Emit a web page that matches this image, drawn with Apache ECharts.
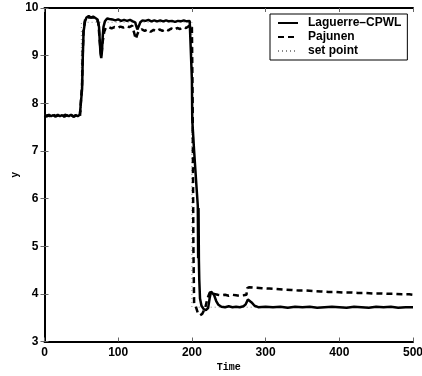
<!DOCTYPE html>
<html>
<head>
<meta charset="utf-8">
<script src="https://cdn.jsdelivr.net/npm/echarts@6/dist/echarts.min.js"></script>
<style>html,body{margin:0;padding:0;background:#fff}#c{width:422px;height:376px}</style>
</head>
<body>
<div id="c"></div>
<script>
var seriesNames = ['Laguerre\u2013CPWL', 'Pajunen', 'set point'];
var xTicks = [0, 100, 200, 300, 400, 500];
var yTicks = [3, 4, 5, 6, 7, 8, 9, 10];

var laguerre = [
[0,7.75],[3,7.72],[6,7.76],[9,7.73],[12,7.75],[15,7.72],[18,7.76],[21,7.73],[24,7.75],[27,7.72],[30,7.75],[33,7.73],[36,7.76],[39,7.72],[42,7.75],[45,7.73],[48,7.76],[50,7.74],
[51,8.3],[52,9.0],[53,9.5],[55,9.72],[57,9.8],[60,9.83],[63,9.8],[66,9.82],[69,9.79],[72,9.76],[74,9.6],[75,9.3],[76,9.05],[77,8.95],[78,9.1],[79,9.4],[80,9.6],[82,9.72],[85,9.78],[88,9.77],[92,9.76],[96,9.74],[100,9.76],[104,9.73],[108,9.75],[112,9.73],[116,9.75],[120,9.72],[123,9.7],[125,9.6],[126,9.55],[128,9.62],[130,9.7],[133,9.74],[137,9.73],[141,9.75],[145,9.72],[149,9.74],[153,9.72],[157,9.74],[161,9.72],[165,9.74],[169,9.72],[173,9.73],[177,9.71],[181,9.73],[185,9.72],[189,9.74],[193,9.72],[197,9.73],[199.5,9.72],
[200,8.5],[200.5,7.65],[203,7.0],[206,6.3],[208,5.85],[208.5,4.75],[209,5.8],[209.5,4.7],[210,4.3],[211,3.9],[213,3.75],[216,3.68],[219,3.66],[222,3.7],[224,3.9],[226,4.05],[227.5,4.08],[230,3.98],[233,3.85],[236,3.77],[240,3.73],[245,3.72],[250,3.74],[255,3.72],[260,3.73],[265,3.72],[270,3.74],[273,3.78],[276,3.88],[278,3.9],[281,3.82],[285,3.75],[290,3.72],[300,3.73],[310,3.72],[320,3.73],[330,3.71],[340,3.73],[350,3.72],[360,3.73],[370,3.71],[380,3.72],[390,3.73],[400,3.72],[410,3.71],[420,3.73],[430,3.72],[440,3.71],[450,3.73],[460,3.72],[470,3.73],[480,3.71],[490,3.72],[500,3.72]
];

var pajunen = [
[0,7.73],[4,7.75],[8,7.72],[12,7.76],[16,7.73],[20,7.75],[24,7.72],[28,7.76],[32,7.73],[36,7.75],[40,7.72],[44,7.76],[48,7.73],[50,7.74],
[51,8.4],[52,9.1],[53,9.55],[55,9.75],[58,9.8],[62,9.8],[66,9.8],[70,9.78],[73,9.7],[75,9.3],[77,8.98],[79,9.3],[81,9.5],[83,9.58],[87,9.6],[91,9.57],[95,9.6],[99,9.58],[103,9.61],[107,9.59],[111,9.62],[115,9.6],[119,9.63],[121,9.6],[123,9.4],[124,9.35],[126,9.45],[128,9.52],[132,9.55],[136,9.52],[140,9.55],[144,9.5],[148,9.54],[152,9.51],[156,9.55],[160,9.52],[164,9.56],[168,9.53],[172,9.57],[176,9.54],[180,9.58],[184,9.56],[188,9.6],[192,9.58],[196,9.62],[199,9.65],[200,9.6],
[201,8.0],[202,5.0],[203,3.8],[205,3.75],[208,3.6],[211,3.55],[214,3.58],[218,3.7],[221,3.9],[224,4.02],[227,4.05],[230,4.0],[235,3.98],[240,3.97],[245,3.98],[250,3.96],[255,3.98],[260,3.97],[265,3.96],[270,3.97],[274,3.98],[275,4.12],[278,4.14],[285,4.13],[295,4.12],[305,4.11],[315,4.1],[325,4.09],[335,4.08],[345,4.07],[355,4.07],[365,4.06],[375,4.05],[385,4.04],[395,4.04],[405,4.03],[415,4.03],[425,4.02],[435,4.02],[445,4.01],[455,4.01],[465,4.0],[475,4.0],[485,3.99],[495,3.99],[500,3.98]
];

var setPoint = [[0,7.75],[50,7.75],[50,9.7],[200,9.7],[200,3.72],[500,3.72]];

var chart = echarts.init(document.getElementById('c'), null, {renderer: 'canvas'});
var labelFont = {fontFamily: 'Liberation Sans', fontWeight: 'bold', fontSize: 12, color: '#000'};
var nameFont = {fontFamily: 'Liberation Mono', fontWeight: 'bold', fontSize: 10, color: '#000'};
function axisCommon(extra) {
  return Object.assign({
    type: 'value',
    axisLine: {show: true, lineStyle: {color: '#000', width: 2}},
    axisTick: {show: true, inside: true, length: 4, lineStyle: {color: '#666', width: 1}},
    splitLine: {show: false}
  }, extra);
}
chart.setOption({
  animation: false,
  backgroundColor: '#fff',
  grid: {left: 44.5, right: 9, top: 8, bottom: 34.5, containLabel: false, outerBoundsMode: 'none'},
  legend: {
    orient: 'vertical', left: 270, top: 14,
    padding: [3, 6, 3, 7],
    itemWidth: 20, itemHeight: 10, itemGap: 2,
    backgroundColor: '#fff', borderColor: '#000', borderWidth: 1,
    itemStyle: {opacity: 0},
    textStyle: Object.assign({}, labelFont, {padding: [0, 0, 0, 5]}),
    data: seriesNames
  },
  xAxis: [
    axisCommon({min: xTicks[0], max: xTicks[xTicks.length - 1], interval: 100, position: 'bottom',
      name: 'Time', nameLocation: 'middle', nameGap: 21, nameMoveOverlap: false, nameTextStyle: nameFont,
      axisLabel: Object.assign({margin: 5}, labelFont)}),
    axisCommon({min: xTicks[0], max: xTicks[xTicks.length - 1], interval: 100, position: 'top', axisLabel: {show: false}})
  ],
  yAxis: [
    axisCommon({min: yTicks[0], max: yTicks[yTicks.length - 1], interval: 1, position: 'left',
      name: 'y', nameLocation: 'middle', nameGap: 24, nameMoveOverlap: false, nameTextStyle: nameFont,
      axisLabel: Object.assign({margin: 6}, labelFont)}),
    axisCommon({min: yTicks[0], max: yTicks[yTicks.length - 1], interval: 1, position: 'right', axisLabel: {show: false}})
  ],
  series: [
    {name: seriesNames[0], type: 'line', data: laguerre, symbol: 'none', showSymbol: false, z: 3,
      lineStyle: {color: '#000', width: 2.5, type: 'solid'}, itemStyle: {color: '#000'}},
    {name: seriesNames[1], type: 'line', data: pajunen, symbol: 'none', showSymbol: false, z: 2,
      lineStyle: {color: '#000', width: 2.5, type: [6, 4]}, itemStyle: {color: '#000'}},
    {name: seriesNames[2], type: 'line', data: setPoint, symbol: 'none', showSymbol: false, z: 1,
      lineStyle: {color: '#888', width: 1, type: [1, 3]}, itemStyle: {color: '#888'}}
  ]
});
</script>
</body>
</html>
